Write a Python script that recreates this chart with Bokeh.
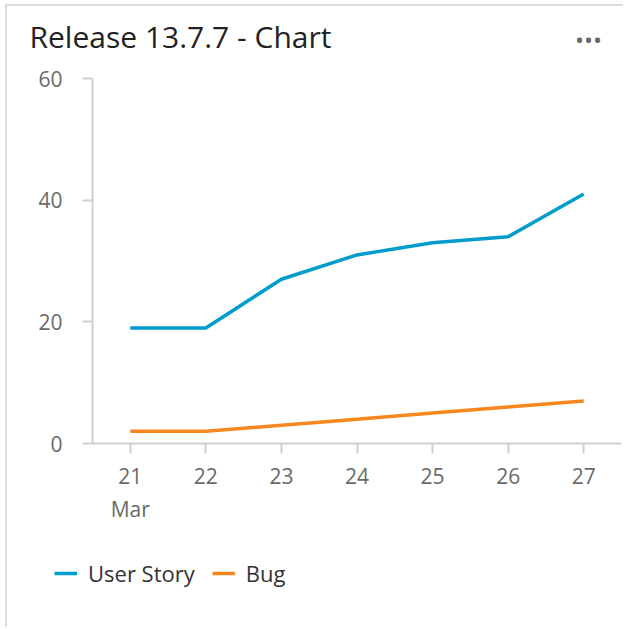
from bokeh.plotting import figure
from bokeh.layouts import column
from bokeh.models import Range1d, Legend, LegendItem, FixedTicker
from bokeh.core.properties import value
from bokeh.embed import file_html
from bokeh.resources import INLINE

days = [21, 22, 23, 24, 25, 26, 27]
day_labels = {21: "21\nMar", 22: "22", 23: "23", 24: "24", 25: "25", 26: "26", 27: "27"}
user_story = [19, 19, 27, 31, 33, 34, 41]
bug = [2, 2, 3, 4, 5, 6, 7]
y_ticks = [0, 20, 40, 60]
series_names = ["User Story", "Bug"]
title_text = "Release 13.7.7 - Chart"

FONT = "Open Sans"
BLUE = "#009ccc"
ORANGE = "#f7871f"
AXIS = "#d0d0d0"
TICKTXT = "#6a6a6a"
W = 616


def no_align(fig):
    if "frame_align" in type(fig).properties():
        fig.frame_align = False
    return fig


def bare(w, h, xr, yr):
    fig = figure(width=w, height=h, output_backend="svg", toolbar_location=None,
                 x_range=xr, y_range=yr, x_axis_location=None, y_axis_location=None,
                 min_border=0, min_border_left=0, min_border_right=0,
                 min_border_top=0, min_border_bottom=0)
    fig.grid.visible = False
    fig.outline_line_color = None
    return no_align(fig)


# header: title and menu dots (pixel-space ranges, y measured from top)
H1 = 60
head = bare(W, H1, Range1d(0, W), Range1d(H1, 0))
head.text(x=[22], y=[29.5], text=[title_text], text_font=value(FONT),
          text_font_size="30px", text_color="#222222",
          text_baseline="middle", text_align="left")
head.text(x=[581], y=[33], text=["\u2022\u2022\u2022"], text_font=value(FONT),
          text_font_size="24px", text_color="#666666",
          text_baseline="middle", text_align="center")

# main chart
H2 = 460
p = figure(width=W, height=H2, output_backend="svg", toolbar_location=None,
           x_range=Range1d(20.5, 27.5), y_range=Range1d(0, 60),
           min_border_left=85, min_border_right=2, min_border_top=12, min_border_bottom=80)
no_align(p)
p.outline_line_color = None
p.xgrid.grid_line_color = None
p.ygrid.grid_line_color = None

for ax in (p.xaxis[0], p.yaxis[0]):
    ax.axis_line_color = AXIS
    ax.axis_line_width = 2
    ax.major_tick_line_color = AXIS
    ax.major_tick_line_width = 2
    ax.major_tick_out = 10
    ax.major_tick_in = 0
    ax.minor_tick_line_color = None
    ax.major_label_text_font = FONT
    ax.major_label_text_font_size = "21px"
    ax.major_label_text_color = TICKTXT

p.xaxis.ticker = FixedTicker(ticks=days)
p.xaxis.major_label_overrides = day_labels
p.xaxis.major_label_standoff = 8
p.yaxis.ticker = FixedTicker(ticks=y_ticks)
p.yaxis.major_label_standoff = 20

p.line(days, user_story, line_color=BLUE, line_width=3.5)
p.line(days, bug, line_color=ORANGE, line_width=3.5)

# legend strip (series drawn out of view; only their legend swatches show)
H3 = 101
leg = bare(W, H3, Range1d(0, 1), Range1d(-2, -1))
k1 = leg.line(days, user_story, line_color=BLUE, line_width=3.5)
k2 = leg.line(days, bug, line_color=ORANGE, line_width=3.5)
legend = Legend(items=[LegendItem(label=series_names[0], renderers=[k1]),
                       LegendItem(label=series_names[1], renderers=[k2])],
                orientation="horizontal", location=(47, 39),
                padding=0, margin=0, spacing=17, label_standoff=11,
                glyph_width=23, glyph_height=24,
                border_line_color=None, background_fill_alpha=0,
                label_text_font=FONT, label_text_font_size="22px",
                label_text_color="#333333")
leg.add_layout(legend, "center")

layout = column(head, p, leg, spacing=0)
layout.styles = {"margin-left": "5px", "margin-top": "4px",
                 "border-top": "2px solid #dcdcdc", "border-left": "2px solid #dcdcdc"}

open("out.html", "w").write(file_html(layout, INLINE))
